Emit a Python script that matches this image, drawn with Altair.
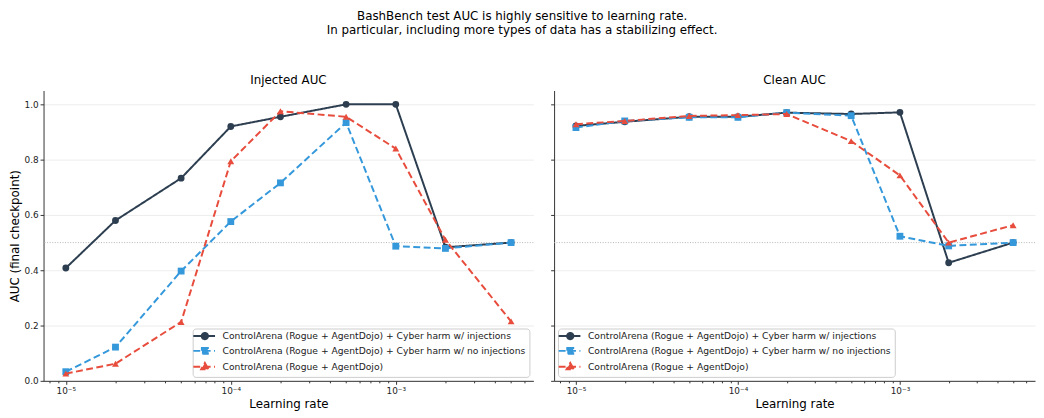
import altair as alt
import pandas as pd

# ---------------- data ----------------
learning_rates = [1e-5, 2e-5, 5e-5, 1e-4, 2e-4, 5e-4, 1e-3, 2e-3, 5e-3]
series_names = [
    "ControlArena (Rogue + AgentDojo) + Cyber harm w/ injections",
    "ControlArena (Rogue + AgentDojo) + Cyber harm w/ no injections",
    "ControlArena (Rogue + AgentDojo)",
]
injected_with_inj = [0.408, 0.580, 0.733, 0.920, 0.955, 1.000, 1.000, 0.483, 0.500]
injected_no_inj = [0.033, 0.122, 0.397, 0.576, 0.716, 0.934, 0.487, 0.479, 0.500]
injected_base = [0.026, 0.062, 0.213, 0.794, 0.975, 0.955, 0.840, 0.510, 0.215]
clean_with_inj = [0.922, 0.937, 0.955, 0.955, 0.970, 0.965, 0.971, 0.427, 0.500]
clean_no_inj = [0.916, 0.940, 0.953, 0.953, 0.970, 0.959, 0.523, 0.488, 0.500]
clean_base = [0.928, 0.940, 0.958, 0.961, 0.965, 0.867, 0.743, 0.500, 0.563]
panel_titles = ["Injected AUC", "Clean AUC"]
chance_level = [0.5]
major_ticks = [1e-5, 1e-4, 1e-3]
major_labels = ["10⁻⁵", "10⁻⁴", "10⁻³"]
minor_ticks = [8e-6, 9e-6,
               2e-5, 3e-5, 4e-5, 5e-5, 6e-5, 7e-5, 8e-5, 9e-5,
               2e-4, 3e-4, 4e-4, 5e-4, 6e-4, 7e-4, 8e-4, 9e-4,
               2e-3, 3e-3, 4e-3, 5e-3, 6e-3]
y_ticks = [0.0, 0.2, 0.4, 0.6, 0.8, 1.0]
title_lines = [
    "BashBench test AUC is highly sensitive to learning rate.",
    "In particular, including more types of data has a stabilizing effect.",
]

# ---------------- styles ----------------
FONT = "DejaVu Sans"
colors = ["#2c3e50", "#3498db", "#e74c3c"]
dashes = [[1, 0], [7, 3.5], [7, 3.5]]
shapes = ["circle", "square", "triangle-up"]
legend_paths = [
    "M-2.33,0H5.0M2.62,0A1.05,1.05,0,1,1,0.52,0A1.05,1.05,0,1,1,2.62,0Z",
    "M-2.33,0H5.0M0.57,-1.0H2.57V1.0H0.57Z",
    "M-2.33,0H5.0M1.57,-1.25L2.8,0.9L0.34,0.9Z",
]
x_domain = [10 ** -5.135, 10 ** -2.166]
LEFT_W, RIGHT_W, H = 496, 487, 294

label_expr = " : ".join(
    f"abs(log(datum.value)/LN10 - log({v})/LN10) < 0.01 ? '{lab}'"
    for v, lab in zip(major_ticks, major_labels)
) + " : ''"
major_test = "abs(log(datum.value)/LN10 - round(log(datum.value)/LN10)) < 0.01"

color_scale = alt.Scale(domain=series_names, range=colors)
dash_scale = alt.Scale(domain=series_names, range=dashes)
shape_scale = alt.Scale(domain=series_names, range=shapes)
legend_shape_scale = alt.Scale(domain=series_names, range=legend_paths)


def make_panel(title, series_values, show_y_labels, legend_orient):
    rows = []
    for name, vals in zip(series_names, series_values):
        for lr, v in zip(learning_rates, vals):
            rows.append({"lr": lr, "auc": v, "series": name})
    df = pd.DataFrame(rows)

    x_axis = alt.Axis(
        values=major_ticks + minor_ticks,
        labelExpr=label_expr,
        labelOverlap=False,
        grid=False,
        tickSize={"condition": {"test": major_test, "value": 3.5}, "value": 2},
        labelFontSize=9,
        labelPadding=2,
        titleFontSize=12,
        titleFontWeight="normal",
        titlePadding=4,
        title="Learning rate",
    )
    y_axis = alt.Axis(
        values=y_ticks,
        format=".1f",
        grid=True,
        labels=show_y_labels,
        title="AUC (final checkpoint)" if show_y_labels else None,
        labelFontSize=9,
        labelPadding=2,
        tickSize=3.5,
        titleFontSize=12,
        titleFontWeight="normal",
        titlePadding=2.5,
    )
    x = alt.X("lr:Q", scale=alt.Scale(type="log", domain=x_domain, nice=False, zero=False), axis=x_axis)
    y = alt.Y("auc:Q", scale=alt.Scale(domain=[0, 1.05], nice=False, zero=False), axis=y_axis)

    ref = alt.Chart(pd.DataFrame({"auc": chance_level})).mark_rule(
        color="#b5b5b5", strokeDash=[1, 1.6], strokeWidth=1
    ).encode(y=alt.Y("auc:Q", scale=alt.Scale(domain=[0, 1.05], nice=False, zero=False), axis=y_axis))

    layers = [ref]
    for name in series_names:
        sub = alt.Chart(df).transform_filter(alt.datum.series == name)
        line = sub.mark_line(strokeWidth=2).encode(
            x=x, y=y,
            color=alt.Color("series:N", scale=color_scale, legend=None),
            strokeDash=alt.StrokeDash("series:N", scale=dash_scale, legend=None),
        )
        pts = sub.mark_point(filled=True, size=48, opacity=1).encode(
            x=x, y=y,
            color=alt.Color("series:N", scale=color_scale, legend=None),
            shape=alt.Shape("series:N", scale=shape_scale, legend=None),
        )
        layers += [line, pts]

    leg = alt.Legend(
        title=None,
        orient=legend_orient,
        offset=4,
        labelFont=FONT,
        labelFontSize=9.3,
        labelColor="#222222",
        labelLimit=500,
        labelOffset=18,
        padding=3,
        rowPadding=0,
        strokeColor="#cccccc",
        fillColor="rgba(255,255,255,0.85)",
        cornerRadius=3,
        symbolSize=36,
        symbolStrokeWidth=2,
        symbolOpacity=1,
    )
    legend_layer = alt.Chart(df).mark_point(filled=True, size=36, opacity=0, strokeWidth=2).encode(
        x=x, y=y,
        fill=alt.Fill("series:N", scale=color_scale, legend=leg),
        stroke=alt.Stroke("series:N", scale=color_scale, legend=leg),
        shape=alt.Shape("series:N", scale=legend_shape_scale, legend=leg),
        strokeDash=alt.StrokeDash("series:N", scale=dash_scale, legend=leg),
    )
    layers.append(legend_layer)

    return alt.layer(*layers).resolve_scale(
        shape="independent", strokeDash="independent", fill="independent", stroke="independent"
    ).properties(
        title=alt.TitleParams(title, fontSize=12, fontWeight="normal", font=FONT, offset=4, color="#000000"),
        width=LEFT_W if show_y_labels else RIGHT_W,
        height=H,
    )


left = make_panel(panel_titles[0], [injected_with_inj, injected_no_inj, injected_base], True, "bottom-right")
right = make_panel(panel_titles[1], [clean_with_inj, clean_no_inj, clean_base], False, "bottom-left")

chart = alt.hconcat(left, right, spacing=16).resolve_scale(
    color="independent", fill="independent", stroke="independent", shape="independent", strokeDash="independent"
).resolve_legend(
    color="independent", fill="independent", stroke="independent", shape="independent", strokeDash="independent"
).properties(
    title=alt.TitleParams(
        title_lines, fontSize=12, fontWeight="normal", font=FONT, anchor="middle",
        lineHeight=14, offset=37, color="#000000",
    ),
    padding=0,
).configure_view(stroke=None).configure_axis(
    labelFont=FONT, titleFont=FONT, labelColor="#222222", titleColor="#000000",
    domainColor="#333333", domainWidth=1, tickColor="#333333", tickWidth=1,
    gridColor="#e8e8e8", gridWidth=0.8,
)

chart.save("out.html", embed_options={"renderer": "svg", "actions": False})
